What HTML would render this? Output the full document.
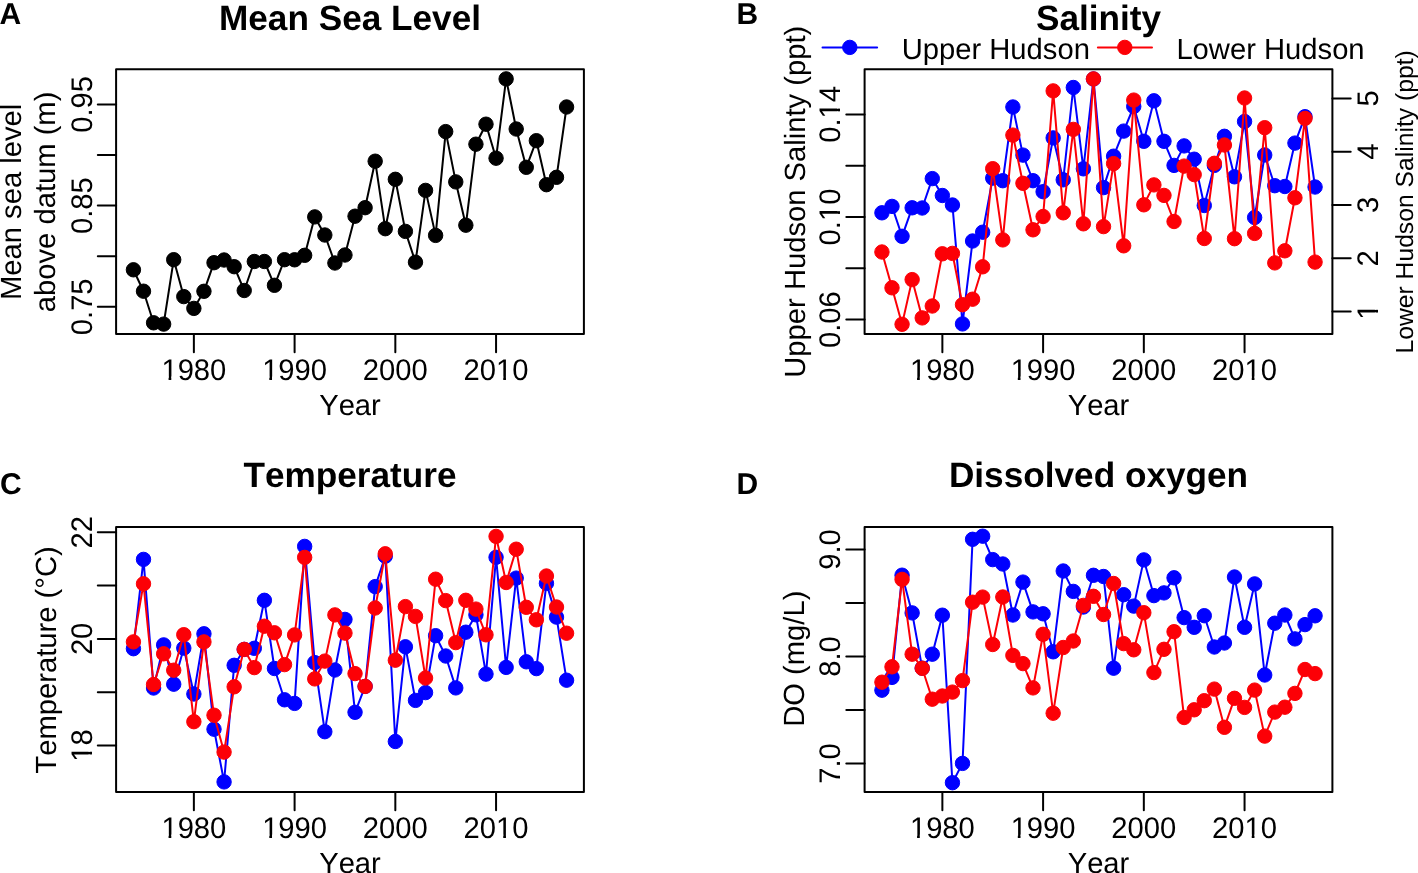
<!DOCTYPE html>
<html><head><meta charset="utf-8"><title>Hudson River trends</title>
<style>html,body{margin:0;padding:0;background:#fff;overflow:hidden}svg{display:block;will-change:transform}text{font-kerning:none;font-feature-settings:"kern" 0}</style>
</head><body>
<svg width="1418" height="873" viewBox="0 0 1418 873" font-family='"Liberation Sans", sans-serif' fill="#000" text-rendering="geometricPrecision">
<rect width="100%" height="100%" fill="#fff"/>
<text transform="translate(-0.6,24)" font-size="30.0" font-weight="bold">A</text>
<text x="350.00" y="30" text-anchor="middle" font-size="35.2" font-weight="bold">Mean Sea Level</text>
<path d="M133.43,269.80 L143.50,291.20 L153.57,322.80 L163.65,324.10 L173.72,259.70 L183.79,296.60 L193.87,308.40 L203.94,291.30 L214.01,262.70 L224.08,260.00 L234.16,266.70 L244.23,290.50 L254.30,261.50 L264.38,261.50 L274.45,285.30 L284.52,259.70 L294.60,259.80 L304.67,255.30 L314.74,216.90 L324.82,235.00 L334.89,263.00 L344.96,255.00 L355.04,216.20 L365.11,207.70 L375.18,161.20 L385.26,228.70 L395.33,179.30 L405.40,231.40 L415.48,262.20 L425.55,190.40 L435.62,235.40 L445.70,131.60 L455.77,181.90 L465.84,225.20 L475.92,144.20 L485.99,124.20 L496.06,158.20 L506.13,78.90 L516.21,129.00 L526.28,167.30 L536.35,140.70 L546.43,184.70 L556.50,177.30 L566.57,107.00" fill="none" stroke="#000" stroke-width="2.0" stroke-linejoin="round" stroke-linecap="round"/>
<circle cx="133.43" cy="269.80" r="7.2" fill="#000" stroke="#000" stroke-width="1.0"/>
<circle cx="143.50" cy="291.20" r="7.2" fill="#000" stroke="#000" stroke-width="1.0"/>
<circle cx="153.57" cy="322.80" r="7.2" fill="#000" stroke="#000" stroke-width="1.0"/>
<circle cx="163.65" cy="324.10" r="7.2" fill="#000" stroke="#000" stroke-width="1.0"/>
<circle cx="173.72" cy="259.70" r="7.2" fill="#000" stroke="#000" stroke-width="1.0"/>
<circle cx="183.79" cy="296.60" r="7.2" fill="#000" stroke="#000" stroke-width="1.0"/>
<circle cx="193.87" cy="308.40" r="7.2" fill="#000" stroke="#000" stroke-width="1.0"/>
<circle cx="203.94" cy="291.30" r="7.2" fill="#000" stroke="#000" stroke-width="1.0"/>
<circle cx="214.01" cy="262.70" r="7.2" fill="#000" stroke="#000" stroke-width="1.0"/>
<circle cx="224.08" cy="260.00" r="7.2" fill="#000" stroke="#000" stroke-width="1.0"/>
<circle cx="234.16" cy="266.70" r="7.2" fill="#000" stroke="#000" stroke-width="1.0"/>
<circle cx="244.23" cy="290.50" r="7.2" fill="#000" stroke="#000" stroke-width="1.0"/>
<circle cx="254.30" cy="261.50" r="7.2" fill="#000" stroke="#000" stroke-width="1.0"/>
<circle cx="264.38" cy="261.50" r="7.2" fill="#000" stroke="#000" stroke-width="1.0"/>
<circle cx="274.45" cy="285.30" r="7.2" fill="#000" stroke="#000" stroke-width="1.0"/>
<circle cx="284.52" cy="259.70" r="7.2" fill="#000" stroke="#000" stroke-width="1.0"/>
<circle cx="294.60" cy="259.80" r="7.2" fill="#000" stroke="#000" stroke-width="1.0"/>
<circle cx="304.67" cy="255.30" r="7.2" fill="#000" stroke="#000" stroke-width="1.0"/>
<circle cx="314.74" cy="216.90" r="7.2" fill="#000" stroke="#000" stroke-width="1.0"/>
<circle cx="324.82" cy="235.00" r="7.2" fill="#000" stroke="#000" stroke-width="1.0"/>
<circle cx="334.89" cy="263.00" r="7.2" fill="#000" stroke="#000" stroke-width="1.0"/>
<circle cx="344.96" cy="255.00" r="7.2" fill="#000" stroke="#000" stroke-width="1.0"/>
<circle cx="355.04" cy="216.20" r="7.2" fill="#000" stroke="#000" stroke-width="1.0"/>
<circle cx="365.11" cy="207.70" r="7.2" fill="#000" stroke="#000" stroke-width="1.0"/>
<circle cx="375.18" cy="161.20" r="7.2" fill="#000" stroke="#000" stroke-width="1.0"/>
<circle cx="385.26" cy="228.70" r="7.2" fill="#000" stroke="#000" stroke-width="1.0"/>
<circle cx="395.33" cy="179.30" r="7.2" fill="#000" stroke="#000" stroke-width="1.0"/>
<circle cx="405.40" cy="231.40" r="7.2" fill="#000" stroke="#000" stroke-width="1.0"/>
<circle cx="415.48" cy="262.20" r="7.2" fill="#000" stroke="#000" stroke-width="1.0"/>
<circle cx="425.55" cy="190.40" r="7.2" fill="#000" stroke="#000" stroke-width="1.0"/>
<circle cx="435.62" cy="235.40" r="7.2" fill="#000" stroke="#000" stroke-width="1.0"/>
<circle cx="445.70" cy="131.60" r="7.2" fill="#000" stroke="#000" stroke-width="1.0"/>
<circle cx="455.77" cy="181.90" r="7.2" fill="#000" stroke="#000" stroke-width="1.0"/>
<circle cx="465.84" cy="225.20" r="7.2" fill="#000" stroke="#000" stroke-width="1.0"/>
<circle cx="475.92" cy="144.20" r="7.2" fill="#000" stroke="#000" stroke-width="1.0"/>
<circle cx="485.99" cy="124.20" r="7.2" fill="#000" stroke="#000" stroke-width="1.0"/>
<circle cx="496.06" cy="158.20" r="7.2" fill="#000" stroke="#000" stroke-width="1.0"/>
<circle cx="506.13" cy="78.90" r="7.2" fill="#000" stroke="#000" stroke-width="1.0"/>
<circle cx="516.21" cy="129.00" r="7.2" fill="#000" stroke="#000" stroke-width="1.0"/>
<circle cx="526.28" cy="167.30" r="7.2" fill="#000" stroke="#000" stroke-width="1.0"/>
<circle cx="536.35" cy="140.70" r="7.2" fill="#000" stroke="#000" stroke-width="1.0"/>
<circle cx="546.43" cy="184.70" r="7.2" fill="#000" stroke="#000" stroke-width="1.0"/>
<circle cx="556.50" cy="177.30" r="7.2" fill="#000" stroke="#000" stroke-width="1.0"/>
<circle cx="566.57" cy="107.00" r="7.2" fill="#000" stroke="#000" stroke-width="1.0"/>
<rect x="116.10" y="69.30" width="467.80" height="264.70" fill="none" stroke="#000" stroke-width="2.0" stroke-linejoin="round"/>
<line x1="193.87" y1="334.00" x2="193.87" y2="352.30" stroke="#000" stroke-width="2.0" stroke-linecap="round"/>
<g transform="translate(193.87,379.50) scale(1,1.02)"><text x="0" y="0" text-anchor="middle" font-size="29.2">1980</text><rect x="-32.48" y="-2.92" width="7.18" height="3.80" fill="#fff"/><rect x="-22.58" y="-2.92" width="7.01" height="3.80" fill="#fff"/></g>
<line x1="294.60" y1="334.00" x2="294.60" y2="352.30" stroke="#000" stroke-width="2.0" stroke-linecap="round"/>
<g transform="translate(294.60,379.50) scale(1,1.02)"><text x="0" y="0" text-anchor="middle" font-size="29.2">1990</text><rect x="-32.48" y="-2.92" width="7.18" height="3.80" fill="#fff"/><rect x="-22.58" y="-2.92" width="7.01" height="3.80" fill="#fff"/></g>
<line x1="395.33" y1="334.00" x2="395.33" y2="352.30" stroke="#000" stroke-width="2.0" stroke-linecap="round"/>
<g transform="translate(395.33,379.50) scale(1,1.02)"><text x="0" y="0" text-anchor="middle" font-size="29.2">2000</text></g>
<line x1="496.06" y1="334.00" x2="496.06" y2="352.30" stroke="#000" stroke-width="2.0" stroke-linecap="round"/>
<g transform="translate(496.06,379.50) scale(1,1.02)"><text x="0" y="0" text-anchor="middle" font-size="29.2">2010</text><rect x="0.00" y="-2.92" width="7.18" height="3.80" fill="#fff"/><rect x="9.90" y="-2.92" width="7.01" height="3.80" fill="#fff"/></g>
<text x="350.00" y="414.80" text-anchor="middle" font-size="29.2">Year</text>
<line x1="97.80" y1="306.80" x2="116.10" y2="306.80" stroke="#000" stroke-width="2.0" stroke-linecap="round"/>
<g transform="translate(91.50,306.80) rotate(-90) scale(1,1.02)"><text x="0" y="0" text-anchor="middle" font-size="29.2">0.75</text></g>
<line x1="97.80" y1="256.21" x2="116.10" y2="256.21" stroke="#000" stroke-width="2.0" stroke-linecap="round"/>
<line x1="97.80" y1="205.62" x2="116.10" y2="205.62" stroke="#000" stroke-width="2.0" stroke-linecap="round"/>
<g transform="translate(91.50,205.62) rotate(-90) scale(1,1.02)"><text x="0" y="0" text-anchor="middle" font-size="29.2">0.85</text></g>
<line x1="97.80" y1="155.04" x2="116.10" y2="155.04" stroke="#000" stroke-width="2.0" stroke-linecap="round"/>
<line x1="97.80" y1="104.45" x2="116.10" y2="104.45" stroke="#000" stroke-width="2.0" stroke-linecap="round"/>
<g transform="translate(91.50,104.45) rotate(-90) scale(1,1.02)"><text x="0" y="0" text-anchor="middle" font-size="29.2">0.95</text></g>
<text transform="translate(20.80,201.90) rotate(-90)" text-anchor="middle" font-size="29.2">Mean sea level</text>
<text transform="translate(55.40,201.90) rotate(-90)" text-anchor="middle" font-size="29.2">above datum (m)</text>
<text transform="translate(736.6,24) " font-size="30.0" font-weight="bold">B</text>
<text x="1098.50" y="29.6" text-anchor="middle" font-size="35.2" font-weight="bold">Salinity</text>
<path d="M881.93,212.80 L892.00,206.40 L902.07,236.30 L912.15,207.80 L922.22,208.00 L932.29,178.60 L942.37,195.50 L952.44,205.00 L962.51,323.90 L972.58,241.00 L982.66,232.20 L992.73,178.10 L1002.80,180.70 L1012.88,107.00 L1022.95,155.10 L1033.02,180.70 L1043.10,191.70 L1053.17,137.90 L1063.24,179.80 L1073.32,87.50 L1083.39,168.80 L1093.46,79.00 L1103.54,187.60 L1113.61,156.20 L1123.68,131.10 L1133.76,106.50 L1143.83,141.30 L1153.90,100.80 L1163.98,141.30 L1174.05,165.40 L1184.12,145.90 L1194.20,159.20 L1204.27,205.50 L1214.34,165.40 L1224.42,136.30 L1234.49,176.80 L1244.56,121.50 L1254.63,217.50 L1264.71,155.00 L1274.78,185.70 L1284.85,186.50 L1294.93,143.10 L1305.00,116.70 L1315.07,187.00" fill="none" stroke="#0000ff" stroke-width="2.0" stroke-linejoin="round" stroke-linecap="round"/>
<circle cx="881.93" cy="212.80" r="7.2" fill="#0000ff" stroke="#0000ff" stroke-width="1.0"/>
<circle cx="892.00" cy="206.40" r="7.2" fill="#0000ff" stroke="#0000ff" stroke-width="1.0"/>
<circle cx="902.07" cy="236.30" r="7.2" fill="#0000ff" stroke="#0000ff" stroke-width="1.0"/>
<circle cx="912.15" cy="207.80" r="7.2" fill="#0000ff" stroke="#0000ff" stroke-width="1.0"/>
<circle cx="922.22" cy="208.00" r="7.2" fill="#0000ff" stroke="#0000ff" stroke-width="1.0"/>
<circle cx="932.29" cy="178.60" r="7.2" fill="#0000ff" stroke="#0000ff" stroke-width="1.0"/>
<circle cx="942.37" cy="195.50" r="7.2" fill="#0000ff" stroke="#0000ff" stroke-width="1.0"/>
<circle cx="952.44" cy="205.00" r="7.2" fill="#0000ff" stroke="#0000ff" stroke-width="1.0"/>
<circle cx="962.51" cy="323.90" r="7.2" fill="#0000ff" stroke="#0000ff" stroke-width="1.0"/>
<circle cx="972.58" cy="241.00" r="7.2" fill="#0000ff" stroke="#0000ff" stroke-width="1.0"/>
<circle cx="982.66" cy="232.20" r="7.2" fill="#0000ff" stroke="#0000ff" stroke-width="1.0"/>
<circle cx="992.73" cy="178.10" r="7.2" fill="#0000ff" stroke="#0000ff" stroke-width="1.0"/>
<circle cx="1002.80" cy="180.70" r="7.2" fill="#0000ff" stroke="#0000ff" stroke-width="1.0"/>
<circle cx="1012.88" cy="107.00" r="7.2" fill="#0000ff" stroke="#0000ff" stroke-width="1.0"/>
<circle cx="1022.95" cy="155.10" r="7.2" fill="#0000ff" stroke="#0000ff" stroke-width="1.0"/>
<circle cx="1033.02" cy="180.70" r="7.2" fill="#0000ff" stroke="#0000ff" stroke-width="1.0"/>
<circle cx="1043.10" cy="191.70" r="7.2" fill="#0000ff" stroke="#0000ff" stroke-width="1.0"/>
<circle cx="1053.17" cy="137.90" r="7.2" fill="#0000ff" stroke="#0000ff" stroke-width="1.0"/>
<circle cx="1063.24" cy="179.80" r="7.2" fill="#0000ff" stroke="#0000ff" stroke-width="1.0"/>
<circle cx="1073.32" cy="87.50" r="7.2" fill="#0000ff" stroke="#0000ff" stroke-width="1.0"/>
<circle cx="1083.39" cy="168.80" r="7.2" fill="#0000ff" stroke="#0000ff" stroke-width="1.0"/>
<circle cx="1093.46" cy="79.00" r="7.2" fill="#0000ff" stroke="#0000ff" stroke-width="1.0"/>
<circle cx="1103.54" cy="187.60" r="7.2" fill="#0000ff" stroke="#0000ff" stroke-width="1.0"/>
<circle cx="1113.61" cy="156.20" r="7.2" fill="#0000ff" stroke="#0000ff" stroke-width="1.0"/>
<circle cx="1123.68" cy="131.10" r="7.2" fill="#0000ff" stroke="#0000ff" stroke-width="1.0"/>
<circle cx="1133.76" cy="106.50" r="7.2" fill="#0000ff" stroke="#0000ff" stroke-width="1.0"/>
<circle cx="1143.83" cy="141.30" r="7.2" fill="#0000ff" stroke="#0000ff" stroke-width="1.0"/>
<circle cx="1153.90" cy="100.80" r="7.2" fill="#0000ff" stroke="#0000ff" stroke-width="1.0"/>
<circle cx="1163.98" cy="141.30" r="7.2" fill="#0000ff" stroke="#0000ff" stroke-width="1.0"/>
<circle cx="1174.05" cy="165.40" r="7.2" fill="#0000ff" stroke="#0000ff" stroke-width="1.0"/>
<circle cx="1184.12" cy="145.90" r="7.2" fill="#0000ff" stroke="#0000ff" stroke-width="1.0"/>
<circle cx="1194.20" cy="159.20" r="7.2" fill="#0000ff" stroke="#0000ff" stroke-width="1.0"/>
<circle cx="1204.27" cy="205.50" r="7.2" fill="#0000ff" stroke="#0000ff" stroke-width="1.0"/>
<circle cx="1214.34" cy="165.40" r="7.2" fill="#0000ff" stroke="#0000ff" stroke-width="1.0"/>
<circle cx="1224.42" cy="136.30" r="7.2" fill="#0000ff" stroke="#0000ff" stroke-width="1.0"/>
<circle cx="1234.49" cy="176.80" r="7.2" fill="#0000ff" stroke="#0000ff" stroke-width="1.0"/>
<circle cx="1244.56" cy="121.50" r="7.2" fill="#0000ff" stroke="#0000ff" stroke-width="1.0"/>
<circle cx="1254.63" cy="217.50" r="7.2" fill="#0000ff" stroke="#0000ff" stroke-width="1.0"/>
<circle cx="1264.71" cy="155.00" r="7.2" fill="#0000ff" stroke="#0000ff" stroke-width="1.0"/>
<circle cx="1274.78" cy="185.70" r="7.2" fill="#0000ff" stroke="#0000ff" stroke-width="1.0"/>
<circle cx="1284.85" cy="186.50" r="7.2" fill="#0000ff" stroke="#0000ff" stroke-width="1.0"/>
<circle cx="1294.93" cy="143.10" r="7.2" fill="#0000ff" stroke="#0000ff" stroke-width="1.0"/>
<circle cx="1305.00" cy="116.70" r="7.2" fill="#0000ff" stroke="#0000ff" stroke-width="1.0"/>
<circle cx="1315.07" cy="187.00" r="7.2" fill="#0000ff" stroke="#0000ff" stroke-width="1.0"/>
<path d="M881.93,252.00 L892.00,287.80 L902.07,324.30 L912.15,279.60 L922.22,317.90 L932.29,306.00 L942.37,253.80 L952.44,253.40 L962.51,304.70 L972.58,299.20 L982.66,266.80 L992.73,168.70 L1002.80,239.90 L1012.88,135.10 L1022.95,183.30 L1033.02,229.80 L1043.10,216.50 L1053.17,90.90 L1063.24,212.80 L1073.32,129.40 L1083.39,223.80 L1093.46,78.90 L1103.54,226.60 L1113.61,163.60 L1123.68,245.80 L1133.76,100.10 L1143.83,204.80 L1153.90,184.90 L1163.98,195.40 L1174.05,221.50 L1184.12,166.10 L1194.20,174.60 L1204.27,238.50 L1214.34,163.30 L1224.42,145.00 L1234.49,238.70 L1244.56,98.00 L1254.63,233.40 L1264.71,127.70 L1274.78,262.90 L1284.85,250.80 L1294.93,197.80 L1305.00,118.40 L1315.07,262.10" fill="none" stroke="#fc0006" stroke-width="2.0" stroke-linejoin="round" stroke-linecap="round"/>
<circle cx="881.93" cy="252.00" r="7.2" fill="#fc0006" stroke="#fc0006" stroke-width="1.0"/>
<circle cx="892.00" cy="287.80" r="7.2" fill="#fc0006" stroke="#fc0006" stroke-width="1.0"/>
<circle cx="902.07" cy="324.30" r="7.2" fill="#fc0006" stroke="#fc0006" stroke-width="1.0"/>
<circle cx="912.15" cy="279.60" r="7.2" fill="#fc0006" stroke="#fc0006" stroke-width="1.0"/>
<circle cx="922.22" cy="317.90" r="7.2" fill="#fc0006" stroke="#fc0006" stroke-width="1.0"/>
<circle cx="932.29" cy="306.00" r="7.2" fill="#fc0006" stroke="#fc0006" stroke-width="1.0"/>
<circle cx="942.37" cy="253.80" r="7.2" fill="#fc0006" stroke="#fc0006" stroke-width="1.0"/>
<circle cx="952.44" cy="253.40" r="7.2" fill="#fc0006" stroke="#fc0006" stroke-width="1.0"/>
<circle cx="962.51" cy="304.70" r="7.2" fill="#fc0006" stroke="#fc0006" stroke-width="1.0"/>
<circle cx="972.58" cy="299.20" r="7.2" fill="#fc0006" stroke="#fc0006" stroke-width="1.0"/>
<circle cx="982.66" cy="266.80" r="7.2" fill="#fc0006" stroke="#fc0006" stroke-width="1.0"/>
<circle cx="992.73" cy="168.70" r="7.2" fill="#fc0006" stroke="#fc0006" stroke-width="1.0"/>
<circle cx="1002.80" cy="239.90" r="7.2" fill="#fc0006" stroke="#fc0006" stroke-width="1.0"/>
<circle cx="1012.88" cy="135.10" r="7.2" fill="#fc0006" stroke="#fc0006" stroke-width="1.0"/>
<circle cx="1022.95" cy="183.30" r="7.2" fill="#fc0006" stroke="#fc0006" stroke-width="1.0"/>
<circle cx="1033.02" cy="229.80" r="7.2" fill="#fc0006" stroke="#fc0006" stroke-width="1.0"/>
<circle cx="1043.10" cy="216.50" r="7.2" fill="#fc0006" stroke="#fc0006" stroke-width="1.0"/>
<circle cx="1053.17" cy="90.90" r="7.2" fill="#fc0006" stroke="#fc0006" stroke-width="1.0"/>
<circle cx="1063.24" cy="212.80" r="7.2" fill="#fc0006" stroke="#fc0006" stroke-width="1.0"/>
<circle cx="1073.32" cy="129.40" r="7.2" fill="#fc0006" stroke="#fc0006" stroke-width="1.0"/>
<circle cx="1083.39" cy="223.80" r="7.2" fill="#fc0006" stroke="#fc0006" stroke-width="1.0"/>
<circle cx="1093.46" cy="78.90" r="7.2" fill="#fc0006" stroke="#fc0006" stroke-width="1.0"/>
<circle cx="1103.54" cy="226.60" r="7.2" fill="#fc0006" stroke="#fc0006" stroke-width="1.0"/>
<circle cx="1113.61" cy="163.60" r="7.2" fill="#fc0006" stroke="#fc0006" stroke-width="1.0"/>
<circle cx="1123.68" cy="245.80" r="7.2" fill="#fc0006" stroke="#fc0006" stroke-width="1.0"/>
<circle cx="1133.76" cy="100.10" r="7.2" fill="#fc0006" stroke="#fc0006" stroke-width="1.0"/>
<circle cx="1143.83" cy="204.80" r="7.2" fill="#fc0006" stroke="#fc0006" stroke-width="1.0"/>
<circle cx="1153.90" cy="184.90" r="7.2" fill="#fc0006" stroke="#fc0006" stroke-width="1.0"/>
<circle cx="1163.98" cy="195.40" r="7.2" fill="#fc0006" stroke="#fc0006" stroke-width="1.0"/>
<circle cx="1174.05" cy="221.50" r="7.2" fill="#fc0006" stroke="#fc0006" stroke-width="1.0"/>
<circle cx="1184.12" cy="166.10" r="7.2" fill="#fc0006" stroke="#fc0006" stroke-width="1.0"/>
<circle cx="1194.20" cy="174.60" r="7.2" fill="#fc0006" stroke="#fc0006" stroke-width="1.0"/>
<circle cx="1204.27" cy="238.50" r="7.2" fill="#fc0006" stroke="#fc0006" stroke-width="1.0"/>
<circle cx="1214.34" cy="163.30" r="7.2" fill="#fc0006" stroke="#fc0006" stroke-width="1.0"/>
<circle cx="1224.42" cy="145.00" r="7.2" fill="#fc0006" stroke="#fc0006" stroke-width="1.0"/>
<circle cx="1234.49" cy="238.70" r="7.2" fill="#fc0006" stroke="#fc0006" stroke-width="1.0"/>
<circle cx="1244.56" cy="98.00" r="7.2" fill="#fc0006" stroke="#fc0006" stroke-width="1.0"/>
<circle cx="1254.63" cy="233.40" r="7.2" fill="#fc0006" stroke="#fc0006" stroke-width="1.0"/>
<circle cx="1264.71" cy="127.70" r="7.2" fill="#fc0006" stroke="#fc0006" stroke-width="1.0"/>
<circle cx="1274.78" cy="262.90" r="7.2" fill="#fc0006" stroke="#fc0006" stroke-width="1.0"/>
<circle cx="1284.85" cy="250.80" r="7.2" fill="#fc0006" stroke="#fc0006" stroke-width="1.0"/>
<circle cx="1294.93" cy="197.80" r="7.2" fill="#fc0006" stroke="#fc0006" stroke-width="1.0"/>
<circle cx="1305.00" cy="118.40" r="7.2" fill="#fc0006" stroke="#fc0006" stroke-width="1.0"/>
<circle cx="1315.07" cy="262.10" r="7.2" fill="#fc0006" stroke="#fc0006" stroke-width="1.0"/>
<rect x="864.60" y="69.30" width="467.80" height="264.70" fill="none" stroke="#000" stroke-width="2.0" stroke-linejoin="round"/>
<line x1="942.37" y1="334.00" x2="942.37" y2="352.30" stroke="#000" stroke-width="2.0" stroke-linecap="round"/>
<g transform="translate(942.37,379.50) scale(1,1.02)"><text x="0" y="0" text-anchor="middle" font-size="29.2">1980</text><rect x="-32.48" y="-2.92" width="7.18" height="3.80" fill="#fff"/><rect x="-22.58" y="-2.92" width="7.01" height="3.80" fill="#fff"/></g>
<line x1="1043.10" y1="334.00" x2="1043.10" y2="352.30" stroke="#000" stroke-width="2.0" stroke-linecap="round"/>
<g transform="translate(1043.10,379.50) scale(1,1.02)"><text x="0" y="0" text-anchor="middle" font-size="29.2">1990</text><rect x="-32.48" y="-2.92" width="7.18" height="3.80" fill="#fff"/><rect x="-22.58" y="-2.92" width="7.01" height="3.80" fill="#fff"/></g>
<line x1="1143.83" y1="334.00" x2="1143.83" y2="352.30" stroke="#000" stroke-width="2.0" stroke-linecap="round"/>
<g transform="translate(1143.83,379.50) scale(1,1.02)"><text x="0" y="0" text-anchor="middle" font-size="29.2">2000</text></g>
<line x1="1244.56" y1="334.00" x2="1244.56" y2="352.30" stroke="#000" stroke-width="2.0" stroke-linecap="round"/>
<g transform="translate(1244.56,379.50) scale(1,1.02)"><text x="0" y="0" text-anchor="middle" font-size="29.2">2010</text><rect x="0.00" y="-2.92" width="7.18" height="3.80" fill="#fff"/><rect x="9.90" y="-2.92" width="7.01" height="3.80" fill="#fff"/></g>
<text x="1098.50" y="414.80" text-anchor="middle" font-size="29.2">Year</text>
<line x1="846.30" y1="319.60" x2="864.60" y2="319.60" stroke="#000" stroke-width="2.0" stroke-linecap="round"/>
<g transform="translate(840.00,319.60) rotate(-90) scale(1,1.02)"><text x="0" y="0" text-anchor="middle" font-size="29.2">0.06</text></g>
<line x1="846.30" y1="268.31" x2="864.60" y2="268.31" stroke="#000" stroke-width="2.0" stroke-linecap="round"/>
<line x1="846.30" y1="217.03" x2="864.60" y2="217.03" stroke="#000" stroke-width="2.0" stroke-linecap="round"/>
<g transform="translate(840.00,217.03) rotate(-90) scale(1,1.02)"><text x="0" y="0" text-anchor="middle" font-size="29.2">0.10</text><rect x="-4.06" y="-2.92" width="7.18" height="3.80" fill="#fff"/><rect x="5.84" y="-2.92" width="7.01" height="3.80" fill="#fff"/></g>
<line x1="846.30" y1="165.74" x2="864.60" y2="165.74" stroke="#000" stroke-width="2.0" stroke-linecap="round"/>
<line x1="846.30" y1="114.45" x2="864.60" y2="114.45" stroke="#000" stroke-width="2.0" stroke-linecap="round"/>
<g transform="translate(840.00,114.45) rotate(-90) scale(1,1.02)"><text x="0" y="0" text-anchor="middle" font-size="29.2">0.14</text><rect x="-4.06" y="-2.92" width="7.18" height="3.80" fill="#fff"/><rect x="5.84" y="-2.92" width="7.01" height="3.80" fill="#fff"/></g>
<line x1="1332.40" y1="311.60" x2="1350.70" y2="311.60" stroke="#000" stroke-width="2.0" stroke-linecap="round"/>
<g transform="translate(1377.90,311.60) rotate(-90) scale(1,1.02)"><text x="0" y="0" text-anchor="middle" font-size="29.2">1</text><rect x="-8.12" y="-2.92" width="7.18" height="3.80" fill="#fff"/><rect x="1.78" y="-2.92" width="7.01" height="3.80" fill="#fff"/></g>
<line x1="1332.40" y1="258.30" x2="1350.70" y2="258.30" stroke="#000" stroke-width="2.0" stroke-linecap="round"/>
<g transform="translate(1377.90,258.30) rotate(-90) scale(1,1.02)"><text x="0" y="0" text-anchor="middle" font-size="29.2">2</text></g>
<line x1="1332.40" y1="205.00" x2="1350.70" y2="205.00" stroke="#000" stroke-width="2.0" stroke-linecap="round"/>
<g transform="translate(1377.90,205.00) rotate(-90) scale(1,1.02)"><text x="0" y="0" text-anchor="middle" font-size="29.2">3</text></g>
<line x1="1332.40" y1="151.70" x2="1350.70" y2="151.70" stroke="#000" stroke-width="2.0" stroke-linecap="round"/>
<g transform="translate(1377.90,151.70) rotate(-90) scale(1,1.02)"><text x="0" y="0" text-anchor="middle" font-size="29.2">4</text></g>
<line x1="1332.40" y1="98.40" x2="1350.70" y2="98.40" stroke="#000" stroke-width="2.0" stroke-linecap="round"/>
<g transform="translate(1377.90,98.40) rotate(-90) scale(1,1.02)"><text x="0" y="0" text-anchor="middle" font-size="29.2">5</text></g>
<text transform="translate(805.00,201.70) rotate(-90)" text-anchor="middle" font-size="29.2">Upper Hudson Salinty (ppt)</text>
<text transform="translate(1413.10,201.90) rotate(-90)" text-anchor="middle" font-size="24.7">Lower Hudson Salinity (ppt)</text>
<line x1="822.5" y1="47.4" x2="877.1" y2="47.4" stroke="#0000ff" stroke-width="2.0" stroke-linecap="round"/>
<circle cx="849.8" cy="47.4" r="7.2" fill="#0000ff" stroke="#0000ff" stroke-width="1.0"/>
<text x="901.7" y="58.8" font-size="29.2">Upper Hudson</text>
<line x1="1097.9" y1="47.4" x2="1152" y2="47.4" stroke="#fc0006" stroke-width="2.0" stroke-linecap="round"/>
<circle cx="1124.8" cy="47.4" r="7.2" fill="#fc0006" stroke="#fc0006" stroke-width="1.0"/>
<text x="1176.4" y="58.8" font-size="29.2">Lower Hudson</text>
<text transform="translate(0,494.2) " font-size="30.0" font-weight="bold">C</text>
<text x="350.00" y="486.9" text-anchor="middle" font-size="35.2" font-weight="bold">Temperature</text>
<path d="M133.43,648.70 L143.50,559.40 L153.57,688.00 L163.65,644.90 L173.72,684.20 L183.79,648.10 L193.87,694.00 L203.94,633.80 L214.01,729.20 L224.08,781.90 L234.16,665.30 L244.23,649.40 L254.30,648.30 L264.38,600.30 L274.45,668.50 L284.52,699.80 L294.60,703.40 L304.67,546.40 L314.74,662.60 L324.82,731.70 L334.89,670.00 L344.96,619.40 L355.04,712.30 L365.11,686.40 L375.18,586.60 L385.26,556.20 L395.33,741.50 L405.40,646.80 L415.48,700.40 L425.55,692.60 L435.62,635.70 L445.70,656.00 L455.77,687.90 L465.84,632.20 L475.92,614.80 L485.99,674.10 L496.06,557.30 L506.13,667.40 L516.21,578.10 L526.28,661.80 L536.35,668.60 L546.43,583.40 L556.50,617.10 L566.57,680.20" fill="none" stroke="#0000ff" stroke-width="2.0" stroke-linejoin="round" stroke-linecap="round"/>
<circle cx="133.43" cy="648.70" r="7.2" fill="#0000ff" stroke="#0000ff" stroke-width="1.0"/>
<circle cx="143.50" cy="559.40" r="7.2" fill="#0000ff" stroke="#0000ff" stroke-width="1.0"/>
<circle cx="153.57" cy="688.00" r="7.2" fill="#0000ff" stroke="#0000ff" stroke-width="1.0"/>
<circle cx="163.65" cy="644.90" r="7.2" fill="#0000ff" stroke="#0000ff" stroke-width="1.0"/>
<circle cx="173.72" cy="684.20" r="7.2" fill="#0000ff" stroke="#0000ff" stroke-width="1.0"/>
<circle cx="183.79" cy="648.10" r="7.2" fill="#0000ff" stroke="#0000ff" stroke-width="1.0"/>
<circle cx="193.87" cy="694.00" r="7.2" fill="#0000ff" stroke="#0000ff" stroke-width="1.0"/>
<circle cx="203.94" cy="633.80" r="7.2" fill="#0000ff" stroke="#0000ff" stroke-width="1.0"/>
<circle cx="214.01" cy="729.20" r="7.2" fill="#0000ff" stroke="#0000ff" stroke-width="1.0"/>
<circle cx="224.08" cy="781.90" r="7.2" fill="#0000ff" stroke="#0000ff" stroke-width="1.0"/>
<circle cx="234.16" cy="665.30" r="7.2" fill="#0000ff" stroke="#0000ff" stroke-width="1.0"/>
<circle cx="244.23" cy="649.40" r="7.2" fill="#0000ff" stroke="#0000ff" stroke-width="1.0"/>
<circle cx="254.30" cy="648.30" r="7.2" fill="#0000ff" stroke="#0000ff" stroke-width="1.0"/>
<circle cx="264.38" cy="600.30" r="7.2" fill="#0000ff" stroke="#0000ff" stroke-width="1.0"/>
<circle cx="274.45" cy="668.50" r="7.2" fill="#0000ff" stroke="#0000ff" stroke-width="1.0"/>
<circle cx="284.52" cy="699.80" r="7.2" fill="#0000ff" stroke="#0000ff" stroke-width="1.0"/>
<circle cx="294.60" cy="703.40" r="7.2" fill="#0000ff" stroke="#0000ff" stroke-width="1.0"/>
<circle cx="304.67" cy="546.40" r="7.2" fill="#0000ff" stroke="#0000ff" stroke-width="1.0"/>
<circle cx="314.74" cy="662.60" r="7.2" fill="#0000ff" stroke="#0000ff" stroke-width="1.0"/>
<circle cx="324.82" cy="731.70" r="7.2" fill="#0000ff" stroke="#0000ff" stroke-width="1.0"/>
<circle cx="334.89" cy="670.00" r="7.2" fill="#0000ff" stroke="#0000ff" stroke-width="1.0"/>
<circle cx="344.96" cy="619.40" r="7.2" fill="#0000ff" stroke="#0000ff" stroke-width="1.0"/>
<circle cx="355.04" cy="712.30" r="7.2" fill="#0000ff" stroke="#0000ff" stroke-width="1.0"/>
<circle cx="365.11" cy="686.40" r="7.2" fill="#0000ff" stroke="#0000ff" stroke-width="1.0"/>
<circle cx="375.18" cy="586.60" r="7.2" fill="#0000ff" stroke="#0000ff" stroke-width="1.0"/>
<circle cx="385.26" cy="556.20" r="7.2" fill="#0000ff" stroke="#0000ff" stroke-width="1.0"/>
<circle cx="395.33" cy="741.50" r="7.2" fill="#0000ff" stroke="#0000ff" stroke-width="1.0"/>
<circle cx="405.40" cy="646.80" r="7.2" fill="#0000ff" stroke="#0000ff" stroke-width="1.0"/>
<circle cx="415.48" cy="700.40" r="7.2" fill="#0000ff" stroke="#0000ff" stroke-width="1.0"/>
<circle cx="425.55" cy="692.60" r="7.2" fill="#0000ff" stroke="#0000ff" stroke-width="1.0"/>
<circle cx="435.62" cy="635.70" r="7.2" fill="#0000ff" stroke="#0000ff" stroke-width="1.0"/>
<circle cx="445.70" cy="656.00" r="7.2" fill="#0000ff" stroke="#0000ff" stroke-width="1.0"/>
<circle cx="455.77" cy="687.90" r="7.2" fill="#0000ff" stroke="#0000ff" stroke-width="1.0"/>
<circle cx="465.84" cy="632.20" r="7.2" fill="#0000ff" stroke="#0000ff" stroke-width="1.0"/>
<circle cx="475.92" cy="614.80" r="7.2" fill="#0000ff" stroke="#0000ff" stroke-width="1.0"/>
<circle cx="485.99" cy="674.10" r="7.2" fill="#0000ff" stroke="#0000ff" stroke-width="1.0"/>
<circle cx="496.06" cy="557.30" r="7.2" fill="#0000ff" stroke="#0000ff" stroke-width="1.0"/>
<circle cx="506.13" cy="667.40" r="7.2" fill="#0000ff" stroke="#0000ff" stroke-width="1.0"/>
<circle cx="516.21" cy="578.10" r="7.2" fill="#0000ff" stroke="#0000ff" stroke-width="1.0"/>
<circle cx="526.28" cy="661.80" r="7.2" fill="#0000ff" stroke="#0000ff" stroke-width="1.0"/>
<circle cx="536.35" cy="668.60" r="7.2" fill="#0000ff" stroke="#0000ff" stroke-width="1.0"/>
<circle cx="546.43" cy="583.40" r="7.2" fill="#0000ff" stroke="#0000ff" stroke-width="1.0"/>
<circle cx="556.50" cy="617.10" r="7.2" fill="#0000ff" stroke="#0000ff" stroke-width="1.0"/>
<circle cx="566.57" cy="680.20" r="7.2" fill="#0000ff" stroke="#0000ff" stroke-width="1.0"/>
<path d="M133.43,641.90 L143.50,583.80 L153.57,684.50 L163.65,653.80 L173.72,670.20 L183.79,634.70 L193.87,721.70 L203.94,641.90 L214.01,715.20 L224.08,752.10 L234.16,686.80 L244.23,649.40 L254.30,667.60 L264.38,626.20 L274.45,632.80 L284.52,664.60 L294.60,634.90 L304.67,557.40 L314.74,678.90 L324.82,661.10 L334.89,614.90 L344.96,633.10 L355.04,673.60 L365.11,686.40 L375.18,608.00 L385.26,553.80 L395.33,660.20 L405.40,606.60 L415.48,616.40 L425.55,678.00 L435.62,579.20 L445.70,600.60 L455.77,642.60 L465.84,600.30 L475.92,609.10 L485.99,634.80 L496.06,536.40 L506.13,582.50 L516.21,549.20 L526.28,607.30 L536.35,619.80 L546.43,576.00 L556.50,607.00 L566.57,633.20" fill="none" stroke="#fc0006" stroke-width="2.0" stroke-linejoin="round" stroke-linecap="round"/>
<circle cx="133.43" cy="641.90" r="7.2" fill="#fc0006" stroke="#fc0006" stroke-width="1.0"/>
<circle cx="143.50" cy="583.80" r="7.2" fill="#fc0006" stroke="#fc0006" stroke-width="1.0"/>
<circle cx="153.57" cy="684.50" r="7.2" fill="#fc0006" stroke="#fc0006" stroke-width="1.0"/>
<circle cx="163.65" cy="653.80" r="7.2" fill="#fc0006" stroke="#fc0006" stroke-width="1.0"/>
<circle cx="173.72" cy="670.20" r="7.2" fill="#fc0006" stroke="#fc0006" stroke-width="1.0"/>
<circle cx="183.79" cy="634.70" r="7.2" fill="#fc0006" stroke="#fc0006" stroke-width="1.0"/>
<circle cx="193.87" cy="721.70" r="7.2" fill="#fc0006" stroke="#fc0006" stroke-width="1.0"/>
<circle cx="203.94" cy="641.90" r="7.2" fill="#fc0006" stroke="#fc0006" stroke-width="1.0"/>
<circle cx="214.01" cy="715.20" r="7.2" fill="#fc0006" stroke="#fc0006" stroke-width="1.0"/>
<circle cx="224.08" cy="752.10" r="7.2" fill="#fc0006" stroke="#fc0006" stroke-width="1.0"/>
<circle cx="234.16" cy="686.80" r="7.2" fill="#fc0006" stroke="#fc0006" stroke-width="1.0"/>
<circle cx="244.23" cy="649.40" r="7.2" fill="#fc0006" stroke="#fc0006" stroke-width="1.0"/>
<circle cx="254.30" cy="667.60" r="7.2" fill="#fc0006" stroke="#fc0006" stroke-width="1.0"/>
<circle cx="264.38" cy="626.20" r="7.2" fill="#fc0006" stroke="#fc0006" stroke-width="1.0"/>
<circle cx="274.45" cy="632.80" r="7.2" fill="#fc0006" stroke="#fc0006" stroke-width="1.0"/>
<circle cx="284.52" cy="664.60" r="7.2" fill="#fc0006" stroke="#fc0006" stroke-width="1.0"/>
<circle cx="294.60" cy="634.90" r="7.2" fill="#fc0006" stroke="#fc0006" stroke-width="1.0"/>
<circle cx="304.67" cy="557.40" r="7.2" fill="#fc0006" stroke="#fc0006" stroke-width="1.0"/>
<circle cx="314.74" cy="678.90" r="7.2" fill="#fc0006" stroke="#fc0006" stroke-width="1.0"/>
<circle cx="324.82" cy="661.10" r="7.2" fill="#fc0006" stroke="#fc0006" stroke-width="1.0"/>
<circle cx="334.89" cy="614.90" r="7.2" fill="#fc0006" stroke="#fc0006" stroke-width="1.0"/>
<circle cx="344.96" cy="633.10" r="7.2" fill="#fc0006" stroke="#fc0006" stroke-width="1.0"/>
<circle cx="355.04" cy="673.60" r="7.2" fill="#fc0006" stroke="#fc0006" stroke-width="1.0"/>
<circle cx="365.11" cy="686.40" r="7.2" fill="#fc0006" stroke="#fc0006" stroke-width="1.0"/>
<circle cx="375.18" cy="608.00" r="7.2" fill="#fc0006" stroke="#fc0006" stroke-width="1.0"/>
<circle cx="385.26" cy="553.80" r="7.2" fill="#fc0006" stroke="#fc0006" stroke-width="1.0"/>
<circle cx="395.33" cy="660.20" r="7.2" fill="#fc0006" stroke="#fc0006" stroke-width="1.0"/>
<circle cx="405.40" cy="606.60" r="7.2" fill="#fc0006" stroke="#fc0006" stroke-width="1.0"/>
<circle cx="415.48" cy="616.40" r="7.2" fill="#fc0006" stroke="#fc0006" stroke-width="1.0"/>
<circle cx="425.55" cy="678.00" r="7.2" fill="#fc0006" stroke="#fc0006" stroke-width="1.0"/>
<circle cx="435.62" cy="579.20" r="7.2" fill="#fc0006" stroke="#fc0006" stroke-width="1.0"/>
<circle cx="445.70" cy="600.60" r="7.2" fill="#fc0006" stroke="#fc0006" stroke-width="1.0"/>
<circle cx="455.77" cy="642.60" r="7.2" fill="#fc0006" stroke="#fc0006" stroke-width="1.0"/>
<circle cx="465.84" cy="600.30" r="7.2" fill="#fc0006" stroke="#fc0006" stroke-width="1.0"/>
<circle cx="475.92" cy="609.10" r="7.2" fill="#fc0006" stroke="#fc0006" stroke-width="1.0"/>
<circle cx="485.99" cy="634.80" r="7.2" fill="#fc0006" stroke="#fc0006" stroke-width="1.0"/>
<circle cx="496.06" cy="536.40" r="7.2" fill="#fc0006" stroke="#fc0006" stroke-width="1.0"/>
<circle cx="506.13" cy="582.50" r="7.2" fill="#fc0006" stroke="#fc0006" stroke-width="1.0"/>
<circle cx="516.21" cy="549.20" r="7.2" fill="#fc0006" stroke="#fc0006" stroke-width="1.0"/>
<circle cx="526.28" cy="607.30" r="7.2" fill="#fc0006" stroke="#fc0006" stroke-width="1.0"/>
<circle cx="536.35" cy="619.80" r="7.2" fill="#fc0006" stroke="#fc0006" stroke-width="1.0"/>
<circle cx="546.43" cy="576.00" r="7.2" fill="#fc0006" stroke="#fc0006" stroke-width="1.0"/>
<circle cx="556.50" cy="607.00" r="7.2" fill="#fc0006" stroke="#fc0006" stroke-width="1.0"/>
<circle cx="566.57" cy="633.20" r="7.2" fill="#fc0006" stroke="#fc0006" stroke-width="1.0"/>
<rect x="116.10" y="527.00" width="467.80" height="264.90" fill="none" stroke="#000" stroke-width="2.0" stroke-linejoin="round"/>
<line x1="193.87" y1="791.90" x2="193.87" y2="810.20" stroke="#000" stroke-width="2.0" stroke-linecap="round"/>
<g transform="translate(193.87,837.60) scale(1,1.02)"><text x="0" y="0" text-anchor="middle" font-size="29.2">1980</text><rect x="-32.48" y="-2.92" width="7.18" height="3.80" fill="#fff"/><rect x="-22.58" y="-2.92" width="7.01" height="3.80" fill="#fff"/></g>
<line x1="294.60" y1="791.90" x2="294.60" y2="810.20" stroke="#000" stroke-width="2.0" stroke-linecap="round"/>
<g transform="translate(294.60,837.60) scale(1,1.02)"><text x="0" y="0" text-anchor="middle" font-size="29.2">1990</text><rect x="-32.48" y="-2.92" width="7.18" height="3.80" fill="#fff"/><rect x="-22.58" y="-2.92" width="7.01" height="3.80" fill="#fff"/></g>
<line x1="395.33" y1="791.90" x2="395.33" y2="810.20" stroke="#000" stroke-width="2.0" stroke-linecap="round"/>
<g transform="translate(395.33,837.60) scale(1,1.02)"><text x="0" y="0" text-anchor="middle" font-size="29.2">2000</text></g>
<line x1="496.06" y1="791.90" x2="496.06" y2="810.20" stroke="#000" stroke-width="2.0" stroke-linecap="round"/>
<g transform="translate(496.06,837.60) scale(1,1.02)"><text x="0" y="0" text-anchor="middle" font-size="29.2">2010</text><rect x="0.00" y="-2.92" width="7.18" height="3.80" fill="#fff"/><rect x="9.90" y="-2.92" width="7.01" height="3.80" fill="#fff"/></g>
<text x="350.00" y="872.90" text-anchor="middle" font-size="29.2">Year</text>
<line x1="97.80" y1="745.40" x2="116.10" y2="745.40" stroke="#000" stroke-width="2.0" stroke-linecap="round"/>
<g transform="translate(91.50,745.40) rotate(-90) scale(1,1.02)"><text x="0" y="0" text-anchor="middle" font-size="29.2">18</text><rect x="-16.24" y="-2.92" width="7.18" height="3.80" fill="#fff"/><rect x="-6.34" y="-2.92" width="7.01" height="3.80" fill="#fff"/></g>
<line x1="97.80" y1="692.14" x2="116.10" y2="692.14" stroke="#000" stroke-width="2.0" stroke-linecap="round"/>
<line x1="97.80" y1="638.88" x2="116.10" y2="638.88" stroke="#000" stroke-width="2.0" stroke-linecap="round"/>
<g transform="translate(91.50,638.88) rotate(-90) scale(1,1.02)"><text x="0" y="0" text-anchor="middle" font-size="29.2">20</text></g>
<line x1="97.80" y1="585.61" x2="116.10" y2="585.61" stroke="#000" stroke-width="2.0" stroke-linecap="round"/>
<line x1="97.80" y1="532.35" x2="116.10" y2="532.35" stroke="#000" stroke-width="2.0" stroke-linecap="round"/>
<g transform="translate(91.50,532.35) rotate(-90) scale(1,1.02)"><text x="0" y="0" text-anchor="middle" font-size="29.2">22</text></g>
<text transform="translate(56.10,659.95) rotate(-90)" text-anchor="middle" font-size="29.2">Temperature (°C)</text>
<text transform="translate(736.4,494) " font-size="30.0" font-weight="bold">D</text>
<text x="1098.50" y="486.9" text-anchor="middle" font-size="35.2" font-weight="bold">Dissolved oxygen</text>
<path d="M881.93,690.20 L892.00,677.40 L902.07,575.20 L912.15,612.90 L922.22,668.20 L932.29,654.20 L942.37,615.20 L952.44,782.70 L962.51,763.40 L972.58,539.30 L982.66,536.20 L992.73,559.60 L1002.80,564.00 L1012.88,615.00 L1022.95,582.10 L1033.02,611.90 L1043.10,613.80 L1053.17,651.80 L1063.24,571.00 L1073.32,591.40 L1083.39,607.00 L1093.46,575.30 L1103.54,576.50 L1113.61,668.20 L1123.68,594.70 L1133.76,606.10 L1143.83,559.90 L1153.90,595.60 L1163.98,592.90 L1174.05,577.80 L1184.12,617.60 L1194.20,627.30 L1204.27,615.70 L1214.34,647.00 L1224.42,643.00 L1234.49,577.00 L1244.56,627.30 L1254.63,583.90 L1264.71,675.00 L1274.78,623.20 L1284.85,615.00 L1294.93,638.90 L1305.00,624.60 L1315.07,615.80" fill="none" stroke="#0000ff" stroke-width="2.0" stroke-linejoin="round" stroke-linecap="round"/>
<circle cx="881.93" cy="690.20" r="7.2" fill="#0000ff" stroke="#0000ff" stroke-width="1.0"/>
<circle cx="892.00" cy="677.40" r="7.2" fill="#0000ff" stroke="#0000ff" stroke-width="1.0"/>
<circle cx="902.07" cy="575.20" r="7.2" fill="#0000ff" stroke="#0000ff" stroke-width="1.0"/>
<circle cx="912.15" cy="612.90" r="7.2" fill="#0000ff" stroke="#0000ff" stroke-width="1.0"/>
<circle cx="922.22" cy="668.20" r="7.2" fill="#0000ff" stroke="#0000ff" stroke-width="1.0"/>
<circle cx="932.29" cy="654.20" r="7.2" fill="#0000ff" stroke="#0000ff" stroke-width="1.0"/>
<circle cx="942.37" cy="615.20" r="7.2" fill="#0000ff" stroke="#0000ff" stroke-width="1.0"/>
<circle cx="952.44" cy="782.70" r="7.2" fill="#0000ff" stroke="#0000ff" stroke-width="1.0"/>
<circle cx="962.51" cy="763.40" r="7.2" fill="#0000ff" stroke="#0000ff" stroke-width="1.0"/>
<circle cx="972.58" cy="539.30" r="7.2" fill="#0000ff" stroke="#0000ff" stroke-width="1.0"/>
<circle cx="982.66" cy="536.20" r="7.2" fill="#0000ff" stroke="#0000ff" stroke-width="1.0"/>
<circle cx="992.73" cy="559.60" r="7.2" fill="#0000ff" stroke="#0000ff" stroke-width="1.0"/>
<circle cx="1002.80" cy="564.00" r="7.2" fill="#0000ff" stroke="#0000ff" stroke-width="1.0"/>
<circle cx="1012.88" cy="615.00" r="7.2" fill="#0000ff" stroke="#0000ff" stroke-width="1.0"/>
<circle cx="1022.95" cy="582.10" r="7.2" fill="#0000ff" stroke="#0000ff" stroke-width="1.0"/>
<circle cx="1033.02" cy="611.90" r="7.2" fill="#0000ff" stroke="#0000ff" stroke-width="1.0"/>
<circle cx="1043.10" cy="613.80" r="7.2" fill="#0000ff" stroke="#0000ff" stroke-width="1.0"/>
<circle cx="1053.17" cy="651.80" r="7.2" fill="#0000ff" stroke="#0000ff" stroke-width="1.0"/>
<circle cx="1063.24" cy="571.00" r="7.2" fill="#0000ff" stroke="#0000ff" stroke-width="1.0"/>
<circle cx="1073.32" cy="591.40" r="7.2" fill="#0000ff" stroke="#0000ff" stroke-width="1.0"/>
<circle cx="1083.39" cy="607.00" r="7.2" fill="#0000ff" stroke="#0000ff" stroke-width="1.0"/>
<circle cx="1093.46" cy="575.30" r="7.2" fill="#0000ff" stroke="#0000ff" stroke-width="1.0"/>
<circle cx="1103.54" cy="576.50" r="7.2" fill="#0000ff" stroke="#0000ff" stroke-width="1.0"/>
<circle cx="1113.61" cy="668.20" r="7.2" fill="#0000ff" stroke="#0000ff" stroke-width="1.0"/>
<circle cx="1123.68" cy="594.70" r="7.2" fill="#0000ff" stroke="#0000ff" stroke-width="1.0"/>
<circle cx="1133.76" cy="606.10" r="7.2" fill="#0000ff" stroke="#0000ff" stroke-width="1.0"/>
<circle cx="1143.83" cy="559.90" r="7.2" fill="#0000ff" stroke="#0000ff" stroke-width="1.0"/>
<circle cx="1153.90" cy="595.60" r="7.2" fill="#0000ff" stroke="#0000ff" stroke-width="1.0"/>
<circle cx="1163.98" cy="592.90" r="7.2" fill="#0000ff" stroke="#0000ff" stroke-width="1.0"/>
<circle cx="1174.05" cy="577.80" r="7.2" fill="#0000ff" stroke="#0000ff" stroke-width="1.0"/>
<circle cx="1184.12" cy="617.60" r="7.2" fill="#0000ff" stroke="#0000ff" stroke-width="1.0"/>
<circle cx="1194.20" cy="627.30" r="7.2" fill="#0000ff" stroke="#0000ff" stroke-width="1.0"/>
<circle cx="1204.27" cy="615.70" r="7.2" fill="#0000ff" stroke="#0000ff" stroke-width="1.0"/>
<circle cx="1214.34" cy="647.00" r="7.2" fill="#0000ff" stroke="#0000ff" stroke-width="1.0"/>
<circle cx="1224.42" cy="643.00" r="7.2" fill="#0000ff" stroke="#0000ff" stroke-width="1.0"/>
<circle cx="1234.49" cy="577.00" r="7.2" fill="#0000ff" stroke="#0000ff" stroke-width="1.0"/>
<circle cx="1244.56" cy="627.30" r="7.2" fill="#0000ff" stroke="#0000ff" stroke-width="1.0"/>
<circle cx="1254.63" cy="583.90" r="7.2" fill="#0000ff" stroke="#0000ff" stroke-width="1.0"/>
<circle cx="1264.71" cy="675.00" r="7.2" fill="#0000ff" stroke="#0000ff" stroke-width="1.0"/>
<circle cx="1274.78" cy="623.20" r="7.2" fill="#0000ff" stroke="#0000ff" stroke-width="1.0"/>
<circle cx="1284.85" cy="615.00" r="7.2" fill="#0000ff" stroke="#0000ff" stroke-width="1.0"/>
<circle cx="1294.93" cy="638.90" r="7.2" fill="#0000ff" stroke="#0000ff" stroke-width="1.0"/>
<circle cx="1305.00" cy="624.60" r="7.2" fill="#0000ff" stroke="#0000ff" stroke-width="1.0"/>
<circle cx="1315.07" cy="615.80" r="7.2" fill="#0000ff" stroke="#0000ff" stroke-width="1.0"/>
<path d="M881.93,682.20 L892.00,666.80 L902.07,579.40 L912.15,654.20 L922.22,668.30 L932.29,699.20 L942.37,696.00 L952.44,692.10 L962.51,680.60 L972.58,602.20 L982.66,597.10 L992.73,644.50 L1002.80,597.00 L1012.88,655.40 L1022.95,663.60 L1033.02,687.90 L1043.10,634.30 L1053.17,713.20 L1063.24,647.50 L1073.32,641.00 L1083.39,605.40 L1093.46,596.30 L1103.54,614.50 L1113.61,583.50 L1123.68,643.60 L1133.76,649.80 L1143.83,612.70 L1153.90,672.60 L1163.98,649.30 L1174.05,631.70 L1184.12,717.50 L1194.20,709.80 L1204.27,700.70 L1214.34,689.10 L1224.42,727.30 L1234.49,698.30 L1244.56,707.40 L1254.63,690.10 L1264.71,736.10 L1274.78,712.10 L1284.85,707.20 L1294.93,693.40 L1305.00,669.50 L1315.07,673.60" fill="none" stroke="#fc0006" stroke-width="2.0" stroke-linejoin="round" stroke-linecap="round"/>
<circle cx="881.93" cy="682.20" r="7.2" fill="#fc0006" stroke="#fc0006" stroke-width="1.0"/>
<circle cx="892.00" cy="666.80" r="7.2" fill="#fc0006" stroke="#fc0006" stroke-width="1.0"/>
<circle cx="902.07" cy="579.40" r="7.2" fill="#fc0006" stroke="#fc0006" stroke-width="1.0"/>
<circle cx="912.15" cy="654.20" r="7.2" fill="#fc0006" stroke="#fc0006" stroke-width="1.0"/>
<circle cx="922.22" cy="668.30" r="7.2" fill="#fc0006" stroke="#fc0006" stroke-width="1.0"/>
<circle cx="932.29" cy="699.20" r="7.2" fill="#fc0006" stroke="#fc0006" stroke-width="1.0"/>
<circle cx="942.37" cy="696.00" r="7.2" fill="#fc0006" stroke="#fc0006" stroke-width="1.0"/>
<circle cx="952.44" cy="692.10" r="7.2" fill="#fc0006" stroke="#fc0006" stroke-width="1.0"/>
<circle cx="962.51" cy="680.60" r="7.2" fill="#fc0006" stroke="#fc0006" stroke-width="1.0"/>
<circle cx="972.58" cy="602.20" r="7.2" fill="#fc0006" stroke="#fc0006" stroke-width="1.0"/>
<circle cx="982.66" cy="597.10" r="7.2" fill="#fc0006" stroke="#fc0006" stroke-width="1.0"/>
<circle cx="992.73" cy="644.50" r="7.2" fill="#fc0006" stroke="#fc0006" stroke-width="1.0"/>
<circle cx="1002.80" cy="597.00" r="7.2" fill="#fc0006" stroke="#fc0006" stroke-width="1.0"/>
<circle cx="1012.88" cy="655.40" r="7.2" fill="#fc0006" stroke="#fc0006" stroke-width="1.0"/>
<circle cx="1022.95" cy="663.60" r="7.2" fill="#fc0006" stroke="#fc0006" stroke-width="1.0"/>
<circle cx="1033.02" cy="687.90" r="7.2" fill="#fc0006" stroke="#fc0006" stroke-width="1.0"/>
<circle cx="1043.10" cy="634.30" r="7.2" fill="#fc0006" stroke="#fc0006" stroke-width="1.0"/>
<circle cx="1053.17" cy="713.20" r="7.2" fill="#fc0006" stroke="#fc0006" stroke-width="1.0"/>
<circle cx="1063.24" cy="647.50" r="7.2" fill="#fc0006" stroke="#fc0006" stroke-width="1.0"/>
<circle cx="1073.32" cy="641.00" r="7.2" fill="#fc0006" stroke="#fc0006" stroke-width="1.0"/>
<circle cx="1083.39" cy="605.40" r="7.2" fill="#fc0006" stroke="#fc0006" stroke-width="1.0"/>
<circle cx="1093.46" cy="596.30" r="7.2" fill="#fc0006" stroke="#fc0006" stroke-width="1.0"/>
<circle cx="1103.54" cy="614.50" r="7.2" fill="#fc0006" stroke="#fc0006" stroke-width="1.0"/>
<circle cx="1113.61" cy="583.50" r="7.2" fill="#fc0006" stroke="#fc0006" stroke-width="1.0"/>
<circle cx="1123.68" cy="643.60" r="7.2" fill="#fc0006" stroke="#fc0006" stroke-width="1.0"/>
<circle cx="1133.76" cy="649.80" r="7.2" fill="#fc0006" stroke="#fc0006" stroke-width="1.0"/>
<circle cx="1143.83" cy="612.70" r="7.2" fill="#fc0006" stroke="#fc0006" stroke-width="1.0"/>
<circle cx="1153.90" cy="672.60" r="7.2" fill="#fc0006" stroke="#fc0006" stroke-width="1.0"/>
<circle cx="1163.98" cy="649.30" r="7.2" fill="#fc0006" stroke="#fc0006" stroke-width="1.0"/>
<circle cx="1174.05" cy="631.70" r="7.2" fill="#fc0006" stroke="#fc0006" stroke-width="1.0"/>
<circle cx="1184.12" cy="717.50" r="7.2" fill="#fc0006" stroke="#fc0006" stroke-width="1.0"/>
<circle cx="1194.20" cy="709.80" r="7.2" fill="#fc0006" stroke="#fc0006" stroke-width="1.0"/>
<circle cx="1204.27" cy="700.70" r="7.2" fill="#fc0006" stroke="#fc0006" stroke-width="1.0"/>
<circle cx="1214.34" cy="689.10" r="7.2" fill="#fc0006" stroke="#fc0006" stroke-width="1.0"/>
<circle cx="1224.42" cy="727.30" r="7.2" fill="#fc0006" stroke="#fc0006" stroke-width="1.0"/>
<circle cx="1234.49" cy="698.30" r="7.2" fill="#fc0006" stroke="#fc0006" stroke-width="1.0"/>
<circle cx="1244.56" cy="707.40" r="7.2" fill="#fc0006" stroke="#fc0006" stroke-width="1.0"/>
<circle cx="1254.63" cy="690.10" r="7.2" fill="#fc0006" stroke="#fc0006" stroke-width="1.0"/>
<circle cx="1264.71" cy="736.10" r="7.2" fill="#fc0006" stroke="#fc0006" stroke-width="1.0"/>
<circle cx="1274.78" cy="712.10" r="7.2" fill="#fc0006" stroke="#fc0006" stroke-width="1.0"/>
<circle cx="1284.85" cy="707.20" r="7.2" fill="#fc0006" stroke="#fc0006" stroke-width="1.0"/>
<circle cx="1294.93" cy="693.40" r="7.2" fill="#fc0006" stroke="#fc0006" stroke-width="1.0"/>
<circle cx="1305.00" cy="669.50" r="7.2" fill="#fc0006" stroke="#fc0006" stroke-width="1.0"/>
<circle cx="1315.07" cy="673.60" r="7.2" fill="#fc0006" stroke="#fc0006" stroke-width="1.0"/>
<rect x="864.60" y="527.00" width="467.80" height="264.90" fill="none" stroke="#000" stroke-width="2.0" stroke-linejoin="round"/>
<line x1="942.37" y1="791.90" x2="942.37" y2="810.20" stroke="#000" stroke-width="2.0" stroke-linecap="round"/>
<g transform="translate(942.37,837.60) scale(1,1.02)"><text x="0" y="0" text-anchor="middle" font-size="29.2">1980</text><rect x="-32.48" y="-2.92" width="7.18" height="3.80" fill="#fff"/><rect x="-22.58" y="-2.92" width="7.01" height="3.80" fill="#fff"/></g>
<line x1="1043.10" y1="791.90" x2="1043.10" y2="810.20" stroke="#000" stroke-width="2.0" stroke-linecap="round"/>
<g transform="translate(1043.10,837.60) scale(1,1.02)"><text x="0" y="0" text-anchor="middle" font-size="29.2">1990</text><rect x="-32.48" y="-2.92" width="7.18" height="3.80" fill="#fff"/><rect x="-22.58" y="-2.92" width="7.01" height="3.80" fill="#fff"/></g>
<line x1="1143.83" y1="791.90" x2="1143.83" y2="810.20" stroke="#000" stroke-width="2.0" stroke-linecap="round"/>
<g transform="translate(1143.83,837.60) scale(1,1.02)"><text x="0" y="0" text-anchor="middle" font-size="29.2">2000</text></g>
<line x1="1244.56" y1="791.90" x2="1244.56" y2="810.20" stroke="#000" stroke-width="2.0" stroke-linecap="round"/>
<g transform="translate(1244.56,837.60) scale(1,1.02)"><text x="0" y="0" text-anchor="middle" font-size="29.2">2010</text><rect x="0.00" y="-2.92" width="7.18" height="3.80" fill="#fff"/><rect x="9.90" y="-2.92" width="7.01" height="3.80" fill="#fff"/></g>
<text x="1098.50" y="872.90" text-anchor="middle" font-size="29.2">Year</text>
<line x1="846.30" y1="763.46" x2="864.60" y2="763.46" stroke="#000" stroke-width="2.0" stroke-linecap="round"/>
<g transform="translate(840.00,763.46) rotate(-90) scale(1,1.02)"><text x="0" y="0" text-anchor="middle" font-size="29.2">7.0</text></g>
<line x1="846.30" y1="709.96" x2="864.60" y2="709.96" stroke="#000" stroke-width="2.0" stroke-linecap="round"/>
<line x1="846.30" y1="656.46" x2="864.60" y2="656.46" stroke="#000" stroke-width="2.0" stroke-linecap="round"/>
<g transform="translate(840.00,656.46) rotate(-90) scale(1,1.02)"><text x="0" y="0" text-anchor="middle" font-size="29.2">8.0</text></g>
<line x1="846.30" y1="602.95" x2="864.60" y2="602.95" stroke="#000" stroke-width="2.0" stroke-linecap="round"/>
<line x1="846.30" y1="549.45" x2="864.60" y2="549.45" stroke="#000" stroke-width="2.0" stroke-linecap="round"/>
<g transform="translate(840.00,549.45) rotate(-90) scale(1,1.02)"><text x="0" y="0" text-anchor="middle" font-size="29.2">9.0</text></g>
<text transform="translate(804.40,658.70) rotate(-90)" text-anchor="middle" font-size="29.2">DO (mg/L)</text>
</svg>
</body></html>
